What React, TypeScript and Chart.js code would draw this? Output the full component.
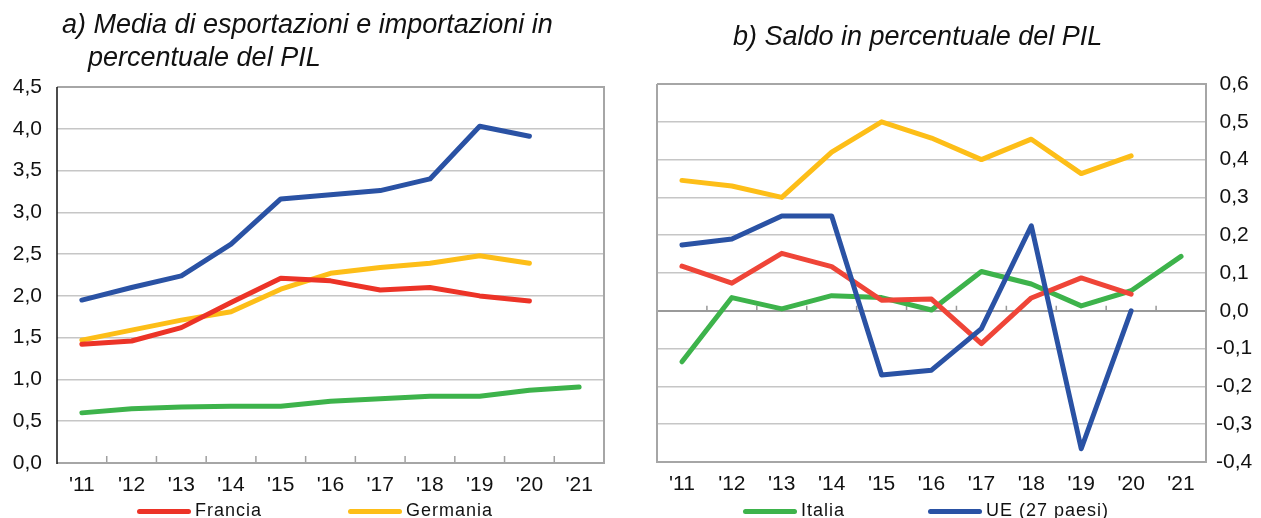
import React, { useEffect, useRef } from "react";
import { Chart, registerables } from "chart.js";
Chart.register(...registerables);

const years = ["'11", "'12", "'13", "'14", "'15", "'16", "'17", "'18", "'19", "'20", "'21"];

// Panel a) – media di esportazioni e importazioni in % del PIL
const franciaA = [1.42, 1.46, 1.62, 1.92, 2.21, 2.18, 2.07, 2.1, 2.0, 1.94, null];
const germaniaA = [1.47, 1.59, 1.71, 1.81, 2.08, 2.27, 2.34, 2.39, 2.48, 2.39, null];
const italiaA = [0.6, 0.65, 0.67, 0.68, 0.68, 0.74, 0.77, 0.8, 0.8, 0.87, 0.91];
const ueA = [1.95, 2.1, 2.24, 2.62, 3.16, 3.21, 3.26, 3.4, 4.03, 3.91, null];

// Panel b) – saldo in % del PIL
const franciaB = [0.118, 0.073, 0.152, 0.117, 0.028, 0.031, -0.087, 0.034, 0.087, 0.044, null];
const germaniaB = [0.345, 0.33, 0.3, 0.42, 0.5, 0.457, 0.4, 0.454, 0.363, 0.41, null];
const italiaB = [-0.135, 0.035, 0.005, 0.04, 0.035, 0.002, 0.104, 0.071, 0.013, 0.053, 0.144];
const ueB = [0.174, 0.19, 0.251, 0.251, -0.17, -0.157, -0.047, 0.225, -0.365, 0.0, null];

const seriesNames = { francia: "Francia", germania: "Germania", italia: "Italia", ue: "UE (27 paesi)" };

const BLUE = "#2A52A4";
const RED = "#EC3327";
const RED_B = "#EF4538";
const YELLOW = "#FDBE18";
const GREEN = "#3DB34B";

const FONT = "'Liberation Sans', Arial, sans-serif";

const fmt = (v: number) => v.toFixed(1).replace(".", ",");

const framePlugin = {
  id: "frame",
  beforeDatasetsDraw(chart: any, _args: any, opts: any) {
    const { ctx, chartArea, scales } = chart;
    const { left, right, top, bottom } = chartArea;
    const x = scales.x;
    const y = scales.y;
    ctx.save();
    const baseY = opts.zeroAxis ? y.getPixelForValue(0) : bottom;
    ctx.strokeStyle = opts.tickColor;
    ctx.lineWidth = 1.5;
    ctx.beginPath();
    const n = chart.data.labels.length;
    for (let i = 0; i < n - 1; i++) {
      const px = (x.getPixelForValue(i) + x.getPixelForValue(i + 1)) / 2;
      ctx.moveTo(px, baseY);
      ctx.lineTo(px, baseY - opts.tickLen);
    }
    ctx.stroke();
    ctx.strokeStyle = opts.frameColor;
    ctx.lineWidth = 2;
    ctx.beginPath();
    ctx.moveTo(left, top);
    ctx.lineTo(right, top);
    ctx.lineTo(right, bottom);
    ctx.lineTo(left, bottom);
    if (!opts.leftColor) ctx.lineTo(left, top);
    ctx.stroke();
    if (opts.leftColor) {
      ctx.strokeStyle = opts.leftColor;
      ctx.lineWidth = 1.5;
      ctx.beginPath();
      ctx.moveTo(left, top);
      ctx.lineTo(left, bottom + 1);
      ctx.stroke();
    }
    ctx.restore();
  },
};

function ds(label: string, data: (number | null)[], color: string) {
  return {
    label,
    data,
    borderColor: color,
    backgroundColor: color,
    borderWidth: 5,
    pointRadius: 0,
    pointHoverRadius: 0,
    tension: 0,
    fill: false,
    borderCapStyle: "round",
    borderJoinStyle: "round",
  };
}

function makeConfig(panel: "a" | "b") {
  const isA = panel === "a";
  const datasets = isA
    ? [
        ds(seriesNames.ue, ueA, BLUE),
        ds(seriesNames.francia, franciaA, RED),
        ds(seriesNames.germania, germaniaA, YELLOW),
        ds(seriesNames.italia, italiaA, GREEN),
      ]
    : [
        ds(seriesNames.ue, ueB, BLUE),
        ds(seriesNames.francia, franciaB, RED_B),
        ds(seriesNames.germania, germaniaB, YELLOW),
        ds(seriesNames.italia, italiaB, GREEN),
      ];
  return {
    type: "line",
    data: { labels: years, datasets },
    plugins: [framePlugin],
    options: {
      animation: false,
      responsive: true,
      maintainAspectRatio: false,
      layout: isA
        ? { padding: { left: 0, top: 87, right: 26, bottom: 15 } }
        : { padding: { left: 27, top: 84, right: 0, bottom: 16 } },
      plugins: {
        legend: { display: false },
        title: { display: false },
        tooltip: { enabled: false },
        frame: isA
          ? { zeroAxis: false, tickLen: 7, tickColor: "#a0a0a0", frameColor: "#a6a6a6", leftColor: "#111" }
          : { zeroAxis: true, tickLen: 5, tickColor: "#999", frameColor: "#a6a6a6", leftColor: null },
      },
      scales: {
        x: {
          type: "category",
          offset: true,
          grid: { display: false },
          border: { display: false },
          ticks: {
            autoSkip: false,
            maxRotation: 0,
            minRotation: 0,
            padding: 2,
            color: "#111",
            font: { family: FONT, size: 21 },
          },
          afterFit: (s: any) => {
            s.height = 40;
          },
        },
        y: {
          position: isA ? "left" : "right",
          min: isA ? 0 : -0.4,
          max: isA ? 4.5 : 0.6,
          grid: {
            drawTicks: false,
            color: (c: any) => (!isA && c.tick && Math.abs(c.tick.value) < 1e-9 ? "#9a9a9a" : "#c6c6c6"),
            lineWidth: (c: any) => (!isA && c.tick && Math.abs(c.tick.value) < 1e-9 ? 2 : 1.5),
          },
          border: { display: false },
          ticks: {
            stepSize: isA ? 0.5 : 0.1,
            padding: isA ? 15 : 10,
            crossAlign: isA ? "near" : "center",
            color: "#111",
            font: { family: FONT, size: 21 },
            callback: (v: any) => fmt(Number(v)),
          },
          afterFit: (s: any) => {
            s.width = isA ? 57 : 55;
          },
        },
      },
    },
  } as any;
}

function Panel({ panel, left, width }: { panel: "a" | "b"; left: number; width: number }) {
  const ref = useRef<HTMLCanvasElement | null>(null);
  useEffect(() => {
    if (!ref.current) return;
    const chart = new Chart(ref.current, makeConfig(panel));
    return () => chart.destroy();
  }, [panel]);
  return (
    <div style={{ position: "absolute", left, top: 0, width, height: 518 }}>
      <canvas ref={ref} />
    </div>
  );
}

const titleStyle: React.CSSProperties = {
  position: "absolute",
  fontFamily: FONT,
  fontStyle: "italic",
  fontSize: 27,
  lineHeight: "27px",
  color: "#111",
  whiteSpace: "nowrap",
  zIndex: 2,
};

function LegendItem({ x, color, label }: { x: number; color: string; label: string }) {
  return (
    <>
      <div
        style={{
          position: "absolute",
          left: x,
          top: 509,
          width: 54,
          height: 5,
          borderRadius: 3,
          background: color,
          zIndex: 2,
        }}
      />
      <div
        style={{
          position: "absolute",
          left: x + 58,
          top: 501,
          fontFamily: FONT,
          fontSize: 18,
          lineHeight: "18px",
          letterSpacing: "1px",
          color: "#111",
          whiteSpace: "nowrap",
          zIndex: 2,
        }}
      >
        {label}
      </div>
    </>
  );
}

export default function App() {
  return (
    <div
      style={{
        position: "absolute",
        left: 0,
        top: 0,
        width: 1261,
        height: 518,
        overflow: "hidden",
        background: "#fff",
      }}
    >
      <Panel panel="a" left={0} width={630} />
      <Panel panel="b" left={630} width={631} />
      <div style={{ ...titleStyle, left: 62, top: 11 }}>a) Media di esportazioni e importazioni in</div>
      <div style={{ ...titleStyle, left: 88, top: 44 }}>percentuale del PIL</div>
      <div style={{ ...titleStyle, left: 733, top: 23 }}>b) Saldo in percentuale del PIL</div>
      <LegendItem x={137} color={RED} label={seriesNames.francia} />
      <LegendItem x={348} color={YELLOW} label={seriesNames.germania} />
      <LegendItem x={743} color={GREEN} label={seriesNames.italia} />
      <LegendItem x={928} color={BLUE} label={seriesNames.ue} />
    </div>
  );
}
